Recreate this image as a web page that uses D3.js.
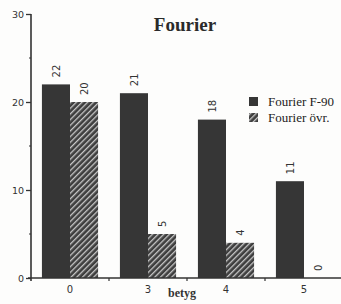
<!DOCTYPE html>
<html>
<head>
<meta charset="utf-8">
<script src="https://cdn.jsdelivr.net/npm/d3@7"></script>
<style>
  body { margin: 0; background: #fdfdfc; }
  svg { display: block; }
</style>
</head>
<body>
<script>
const categories = ["0", "3", "4", "5"];
const seriesNames = ["Fourier F-90", "Fourier övr."];
const f90 = [22, 21, 18, 11];
const ovr = [20, 5, 4, 0];
const yTicks = [0, 10, 20, 30];

const W = 341, H = 304;
const svg = d3.select("body").append("svg").attr("width", W).attr("height", H);

const defs = svg.append("defs");
const pat = defs.append("pattern")
  .attr("id", "hatch").attr("patternUnits", "userSpaceOnUse")
  .attr("width", 4).attr("height", 4)
  .attr("patternTransform", "rotate(45)");
pat.append("rect").attr("width", 4).attr("height", 4).attr("fill", "#3e3e3e");
pat.append("rect").attr("x", 0).attr("width", 1.3).attr("height", 4).attr("fill", "#c8c8c8");

const x0 = d3.scaleBand().domain(categories).range([31, 343]).paddingInner(0.28).paddingOuter(0.14);
const x1 = d3.scaleBand().domain([0, 1]).range([0, x0.bandwidth()]);
const y = d3.scaleLinear().domain([0, 30]).range([278, 14]);

// bars
const groups = svg.append("g").selectAll("g").data(categories).join("g")
  .attr("transform", d => `translate(${x0(d)},0)`);
groups.each(function(c, i) {
  const g = d3.select(this);
  const vals = [f90[i], ovr[i]];
  vals.forEach((v, s) => {
    g.append("rect")
      .attr("x", x1(s)).attr("width", x1.bandwidth())
      .attr("y", y(v)).attr("height", y(0) - y(v))
      .attr("fill", s === 0 ? "#363636" : "url(#hatch)");
    g.append("text")
      .attr("transform", `translate(${x1(s) + x1.bandwidth() / 2 + 4},${y(v) - 7}) rotate(-90)`)
      .attr("font-family", "DejaVu Sans, sans-serif").attr("font-size", 10)
      .attr("fill", "#333")
      .text(v);
  });
});

// y axis
const yAxis = d3.axisLeft(y).tickValues(yTicks).tickSize(5).tickPadding(2);
const ya = svg.append("g").attr("transform", "translate(31,0)").call(yAxis);
ya.select(".domain").remove();
ya.append("line").attr("x1", 0).attr("x2", 0).attr("y1", y(30)).attr("y2", y(0) + 3)
  .attr("stroke", "#333").attr("stroke-width", 1.6);
ya.selectAll(".tick line").attr("stroke", "#333").attr("stroke-width", 1.3);
ya.selectAll(".tick text").attr("font-family", "DejaVu Sans, sans-serif").attr("font-size", 9.5).attr("fill", "#333");
ya.selectAll(".minor").data([5, 15, 25]).join("line")
  .attr("x1", -2).attr("x2", 0).attr("y1", d => y(d)).attr("y2", d => y(d))
  .attr("stroke", "#333").attr("stroke-width", 1.2);

// x axis
const xa = svg.append("g").attr("transform", `translate(0,${y(0)})`);
xa.append("line").attr("x1", 28).attr("x2", 341).attr("stroke", "#333").attr("stroke-width", 1.4);
const bounds = categories.slice(1).map(c => x0(c) - x0.step() * x0.paddingInner() / 2);
xa.selectAll(".sep").data(bounds).join("line")
  .attr("x1", d => d).attr("x2", d => d).attr("y1", 0).attr("y2", 3)
  .attr("stroke", "#333").attr("stroke-width", 1.2);
xa.selectAll(".lbl").data(categories).join("text")
  .attr("x", d => x0(d) + x0.bandwidth() / 2).attr("y", 15)
  .attr("text-anchor", "middle")
  .attr("font-family", "DejaVu Sans, sans-serif").attr("font-size", 10).attr("fill", "#333")
  .text(d => d);

svg.append("text").attr("x", 182).attr("y", 297).attr("text-anchor", "middle")
  .attr("font-family", "Liberation Serif, serif").attr("font-weight", "bold")
  .attr("font-size", 12).attr("fill", "#333").text("betyg");

// title
svg.append("text").attr("x", 185).attr("y", 31).attr("text-anchor", "middle")
  .attr("font-family", "Liberation Serif, serif").attr("font-weight", "bold")
  .attr("font-size", 19).attr("fill", "#2a2a2a").text("Fourier");

// legend
const leg = svg.append("g").attr("transform", "translate(249,97)");
seriesNames.forEach((n, i) => {
  leg.append("rect").attr("x", 0).attr("y", i * 16).attr("width", 9).attr("height", 9)
    .attr("fill", i === 0 ? "#363636" : "url(#hatch)");
  leg.append("text").attr("x", 19).attr("y", i * 16 + 9)
    .attr("font-family", "Liberation Serif, serif").attr("font-size", 13).attr("fill", "#222")
    .text(n);
});
</script>
</body>
</html>
